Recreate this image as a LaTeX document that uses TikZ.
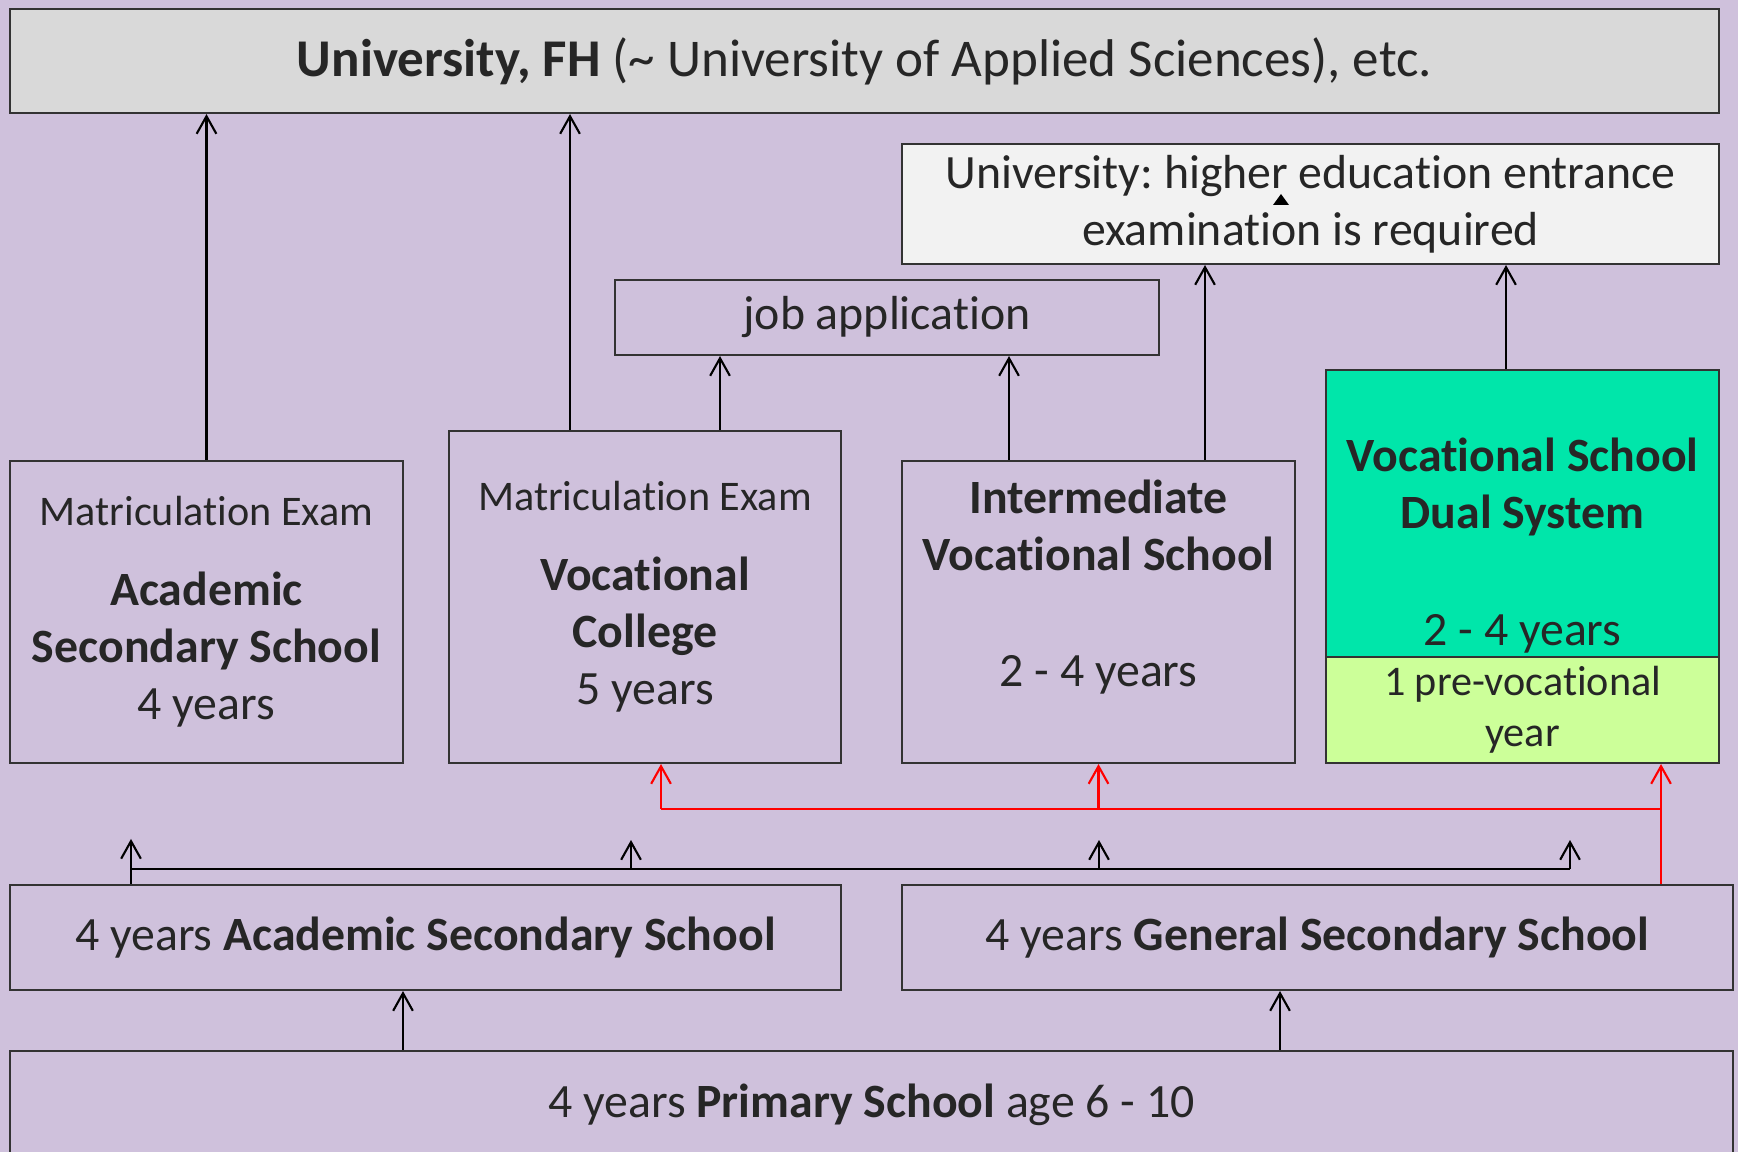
\documentclass[tikz,border=0pt]{standalone}
\usepackage{fontspec}
\setmainfont{Carlito}[Ligatures=NoCommon]
\frenchspacing
\usetikzlibrary{arrows.meta}
\definecolor{lila}{RGB}{207,193,220}
\definecolor{siva}{RGB}{217,217,217}
\definecolor{bela}{RGB}{242,242,242}
\definecolor{zelena}{RGB}{0,230,170}
\definecolor{svetlozelena}{RGB}{204,255,153}
\newcommand{\matura}{\fontsize{12}{14}\selectfont Matriculation Exam}% smaller first line
\tikzset{
 box/.style={draw=black!80, line width=0.6pt, fill=lila, align=center, inner sep=0pt,
  text=black!85, font=\fontsize{13.6}{16.2}\selectfont},
 arr/.style={-{Straight Barb[length=5pt,width=5.6pt]}, line width=0.6pt},
 redarr/.style={arr, draw=red}
}

\begin{document}
\begin{tikzpicture}
\fill[lila] (0,0) rectangle (17.38,-11.52);
\useasboundingbox (0,0) rectangle (17.38,-11.52);

\node[box, fill=siva, minimum width=17.09cm, minimum height=1.04cm, font=\fontsize{15.1}{18}\selectfont] (uni) at (8.645,-0.61)
 {\textbf{University, FH} (\textasciitilde{} University of Applied Sciences), etc.};
\node[box, fill=bela, minimum width=8.17cm, minimum height=1.2cm] (exam) at (13.105,-2.04)
 {University: higher education entrance\\examination is required};
\node[box, minimum width=5.44cm, minimum height=0.75cm] (job) at (8.87,-3.175) {job application};

\node[box, minimum width=3.93cm, minimum height=3.02cm] (gym) at (2.065,-6.12)
 {\matura\\[6.6pt]\textbf{Academic}\\\textbf{Secondary School}\\4 years};
\node[box, minimum width=3.92cm, minimum height=3.32cm] (college) at (6.45,-5.97)
 {\matura\\[6.6pt]\textbf{Vocational}\\\textbf{College}\\5 years};
\node[box, minimum width=3.93cm, minimum height=3.02cm] (inter) at (10.985,-6.12)
 {\textbf{Intermediate}\\\textbf{Vocational School}\\[16.8pt]2 - 4 years\\\mbox{}};
\node[box, fill=zelena, minimum width=3.93cm, minimum height=2.87cm] (dual) at (15.225,-5.135)
 {\mbox{}\\[11.7pt]\textbf{Vocational School}\\\textbf{Dual System}\\[17pt]2 - 4 years};
\node[box, fill=svetlozelena, minimum width=3.93cm, minimum height=1.06cm, font=\fontsize{12}{14.5}\selectfont] (prevoc) at (15.225,-7.10)
 {1 pre-vocational\\year};

\node[box, minimum width=8.31cm, minimum height=1.05cm] (acadsec) at (4.255,-9.375)
 {4 years \textbf{Academic Secondary School}};
\node[box, minimum width=8.31cm, minimum height=1.05cm] (gensec) at (13.175,-9.375)
 {4 years \textbf{General Secondary School}};
\node[box, minimum width=17.23cm, minimum height=1.08cm] (primary) at (8.715,-11.05)
 {4 years \textbf{Primary School} age 6 - 10};

\fill[black] (12.81,-1.94) -- (12.89,-2.05) -- (12.73,-2.05) -- cycle;

% upwards to university, job, exam
\coordinate (c1) at ([xshift=-0.75cm]college.north);
\coordinate (c2) at ([xshift=0.75cm]college.north);
\coordinate (i1) at ([xshift=-0.895cm]inter.north);
\coordinate (i2) at ([xshift=1.065cm]inter.north);
\coordinate (d1) at ([xshift=-0.165cm]dual.north);
\draw[arr] (gym.north) -- (gym.north |- uni.south);
\draw[arr] (c1) -- (c1 |- uni.south);
\draw[arr] (c2) -- (c2 |- job.south);
\draw[arr] (i1) -- (i1 |- job.south);
\draw[arr] (i2) -- (i2 |- exam.south);
\draw[arr] (d1) -- (d1 |- exam.south);

% black bus
\coordinate (b1) at (1.31,-8.69);
\coordinate (b2) at (6.31,-8.69);
\coordinate (b3) at (10.99,-8.69);
\coordinate (b4) at (15.70,-8.69);
\draw[line width=0.6pt] (b1) -- (b4);
\draw[arr] (b1 |- acadsec.north) -- ++(0,0.45);
\foreach \b in {b2,b3,b4}
 \draw[arr] (\b) -- ++(0,0.29);

% red bus
\coordinate (rbus) at (0,-8.09);
\coordinate (rk) at ([xshift=0.16cm]college.south);
\coordinate (rd) at ([xshift=1.385cm]prevoc.south);
\draw[red, line width=0.6pt] (rk |- rbus) -- (rd |- rbus);
\draw[redarr] (rd |- gensec.north) -- (rd);
\draw[redarr] (rk |- rbus) -- (rk);
\draw[redarr] (inter.south |- rbus) -- (inter.south);

% from primary school
\coordinate (p1) at ([xshift=-0.225cm]acadsec.south);
\coordinate (p2) at ([xshift=-0.375cm]gensec.south);
\draw[arr] (p1 |- primary.north) -- (p1);
\draw[arr] (p2 |- primary.north) -- (p2);
\end{tikzpicture}
\end{document}
